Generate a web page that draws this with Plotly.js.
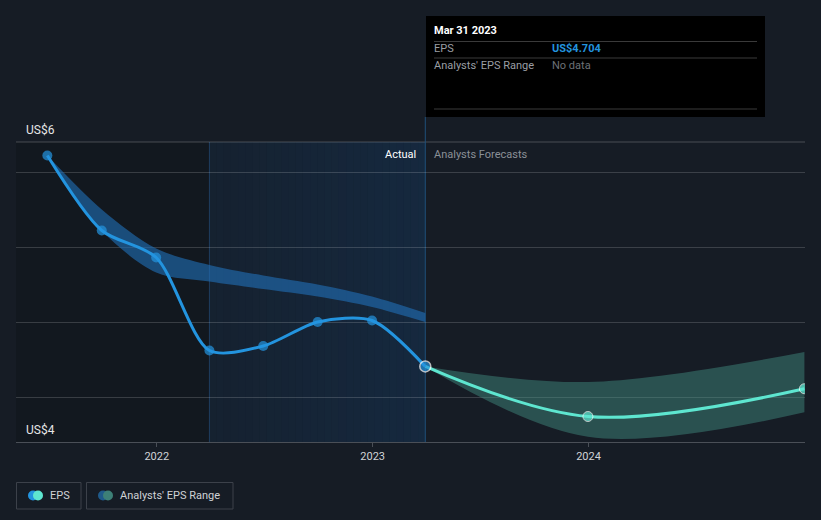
<!DOCTYPE html>
<html><head><meta charset="utf-8">
<script src="https://cdn.plot.ly/plotly-3.0.1.min.js"></script>
<style>html,body{margin:0;padding:0;background:#161c25;}#chart{width:821px;height:520px;}</style>
</head><body><div id="chart"></div>
<script>
// ---- data ----
const epsDates = ['2021-06-30','2021-09-30','2021-12-31','2022-03-31','2022-06-30','2022-09-30','2022-12-31','2023-03-31'];
const epsValues = [6.11, 5.61, 5.43, 4.81, 4.84, 5.00, 5.01, 4.704];
const pastRangeHigh = [6.11, 5.75, 5.49, 5.38, 5.31, 5.25, 5.17, 5.06];
const pastRangeLow  = [6.11, 5.61, 5.33, 5.27, 5.22, 5.17, 5.10, 5.00];
const fcDates = ['2023-03-31','2023-12-31','2024-12-31'];
const fcValues = [4.704, 4.37, 4.555];
const fcHigh = [4.704, 4.60, 4.80];
const fcLow  = [4.704, 4.235, 4.398];
const xTickVals = ['2022-01-01','2023-01-01','2024-01-01'];
const xTickText = ['2022','2023','2024'];
const yGrid = [4.5, 5.0, 5.5, 6.0];
const yLabelTop = 'US$6', yLabelBottom = 'US$4';
const actualStart = '2022-03-31', actualEnd = '2023-03-31';
const xRange = ['2021-05-08','2025-01-01'];
const yRange = [4.2, 6.2];

// ---- layout helpers ----
const L = 16, R = 805, T = 142, B = 442;
const px = x => (x - L) / (R - L);
const py = y => (B - y) / (B - T);
const FONT = 'Roboto, "Open Sans", sans-serif';

const traces = [
  {x: epsDates, y: pastRangeLow, mode:'lines', line:{width:0, shape:'spline', smoothing:0.9}, hoverinfo:'skip', showlegend:false},
  {x: epsDates, y: pastRangeHigh, mode:'lines', line:{width:0, shape:'spline', smoothing:0.9}, fill:'tonexty', fillcolor:'rgba(33,110,180,0.62)', hoverinfo:'skip', showlegend:false},
  {x: fcDates, y: fcLow, mode:'lines', line:{width:0, shape:'spline'}, hoverinfo:'skip', showlegend:false},
  {x: fcDates, y: fcHigh, mode:'lines', line:{width:0, shape:'spline'}, fill:'tonexty', fillcolor:'rgba(72,155,140,0.42)', hoverinfo:'skip', showlegend:false},
  {x: fcDates, y: fcValues, mode:'lines+markers', line:{color:'#5ee6d0', width:3, shape:'spline'}, marker:{size:[0,10,10], color:'#5ee6d0'}, hoverinfo:'skip', showlegend:false},
  {x: epsDates, y: epsValues, mode:'lines+markers', line:{color:'#2394df', width:3, shape:'spline', smoothing:0.8},
   marker:{size:[10,10,10,10,10,10,10,11], color:'#2394df', line:{color:epsDates.map((d,i)=> i===epsDates.length-1?'#ffffff':'#2394df'), width:[0,0,0,0,0,0,0,1.5]}}, hoverinfo:'skip', showlegend:false}
];

const shapes = [];
// darker zone before the actual window
shapes.push({type:'rect', layer:'below', xref:'x', yref:'paper', x0:xRange[0], x1:actualStart, y0:0, y1:1, fillcolor:'rgba(0,0,0,0.14)', line:{width:0}});
// gradient of the actual window
const s0 = new Date(actualStart).getTime(), s1 = new Date(actualEnd).getTime();
const N = 30;
for (let i = 0; i < N; i++) {
  const a = 0.10 + 0.13 * (i / (N - 1));
  shapes.push({type:'rect', layer:'below', xref:'x', yref:'paper',
    x0: new Date(s0 + (s1 - s0) * i / N).toISOString(), x1: new Date(s0 + (s1 - s0) * (i + 1) / N).toISOString(),
    y0:0, y1:1, fillcolor:`rgba(20,85,150,${a.toFixed(3)})`, line:{width:0}});
}
shapes.push({type:'line', layer:'below', xref:'x', yref:'paper', x0:actualStart, x1:actualStart, y0:0, y1:1, line:{color:'rgba(40,90,140,0.55)', width:1}});
// top border line
shapes.push({type:'line', layer:'below', xref:'paper', yref:'paper', x0:0, x1:1, y0:1, y1:1, line:{color:'rgba(255,255,255,0.22)', width:1}});
// hover line
shapes.push({type:'line', layer:'below', xref:'x', yref:'paper', x0:actualEnd, x1:actualEnd, y0:0, y1:py(117), line:{color:'#1f4f7a', width:1}});
// tooltip box
shapes.push({type:'rect', layer:'above', xref:'paper', yref:'paper', x0:px(426), x1:px(765), y0:py(117), y1:py(16), fillcolor:'#000000', line:{width:0}});
[41.5, 58, 109].forEach(yy => shapes.push({type:'line', layer:'above', xref:'paper', yref:'paper', x0:px(434), x1:px(757), y0:py(yy), y1:py(yy), line:{color:'#3a3a3a', width:1}}));
// legend boxes
shapes.push({type:'rect', layer:'above', xref:'paper', yref:'paper', x0:px(16.5), x1:px(81), y0:py(509), y1:py(482.5), fillcolor:'rgba(0,0,0,0)', line:{color:'#3c414a', width:1}});
shapes.push({type:'rect', layer:'above', xref:'paper', yref:'paper', x0:px(86.5), x1:px(233), y0:py(509), y1:py(482.5), fillcolor:'rgba(0,0,0,0)', line:{color:'#3c414a', width:1}});
function circle(cx, cy, r, color){
  shapes.push({type:'circle', layer:'above', xref:'paper', yref:'paper', x0:px(cx-r), x1:px(cx+r), y0:py(cy+r), y1:py(cy-r), fillcolor:color, line:{width:0}});
}
circle(33, 495.5, 5, '#2394df'); circle(38, 495.5, 5, '#5ee6d0');
circle(103, 495.5, 5, '#1f5a8a'); circle(108, 495.5, 5, '#3d8077');

const ann = (text, x, y, opts={}) => Object.assign({text, xref:'paper', yref:'paper', x:px(x), y:py(y), showarrow:false, xanchor:'left', yanchor:'middle', font:{family:FONT, size:11, color:'#d8d8d8'}}, opts);
const annotations = [
  ann(yLabelTop, 24, 130, {font:{family:FONT, size:12, color:'#e6e6e6'}}),
  ann(yLabelBottom, 24, 430, {font:{family:FONT, size:12, color:'#e6e6e6'}}),
  ann('Actual', 418, 154, {xanchor:'right', font:{family:FONT, size:11, color:'#ffffff'}}),
  ann('Analysts Forecasts', 432, 154, {font:{family:FONT, size:11, color:'#8b9097'}}),
  ann('<b>Mar 31 2023</b>', 432, 31, {font:{family:FONT, size:11, color:'#ffffff'}}),
  ann('EPS', 432, 49, {font:{family:FONT, size:11, color:'#9a9ea4'}}),
  ann('<b>US$4.704</b>', 550, 49, {font:{family:FONT, size:11, color:'#2394df'}}),
  ann("Analysts' EPS Range", 432, 66, {font:{family:FONT, size:11, color:'#9a9ea4'}}),
  ann('No data', 550, 66, {font:{family:FONT, size:11, color:'#6c7177'}}),
  ann('EPS', 48, 495.5, {font:{family:FONT, size:11, color:'#cfd2d6'}}),
  ann("Analysts' EPS Range", 118, 495.5, {font:{family:FONT, size:11, color:'#cfd2d6'}})
];

const layout = {
  width:821, height:520,
  margin:{l:L, r:821-R, t:T, b:520-B, pad:0},
  paper_bgcolor:'#161c25', plot_bgcolor:'#161c25',
  font:{family:FONT, color:'#d8d8d8'},
  showlegend:false,
  xaxis:{type:'date', range:xRange, tickvals:xTickVals, ticktext:xTickText, showgrid:false, zeroline:false,
    showline:true, linecolor:'#4a4f57', linewidth:1, ticks:'outside', ticklen:4, tickcolor:'#4a4f57',
    tickfont:{family:FONT, size:11, color:'#d0d3d7'}, fixedrange:true},
  yaxis:{range:yRange, tickvals:yGrid, showticklabels:false, showgrid:true, gridcolor:'rgba(255,255,255,0.16)', gridwidth:1,
    zeroline:false, showline:false, ticks:'', fixedrange:true},
  shapes, annotations
};
Plotly.newPlot('chart', traces, layout, {staticPlot:true, displayModeBar:false});
</script></body></html>
